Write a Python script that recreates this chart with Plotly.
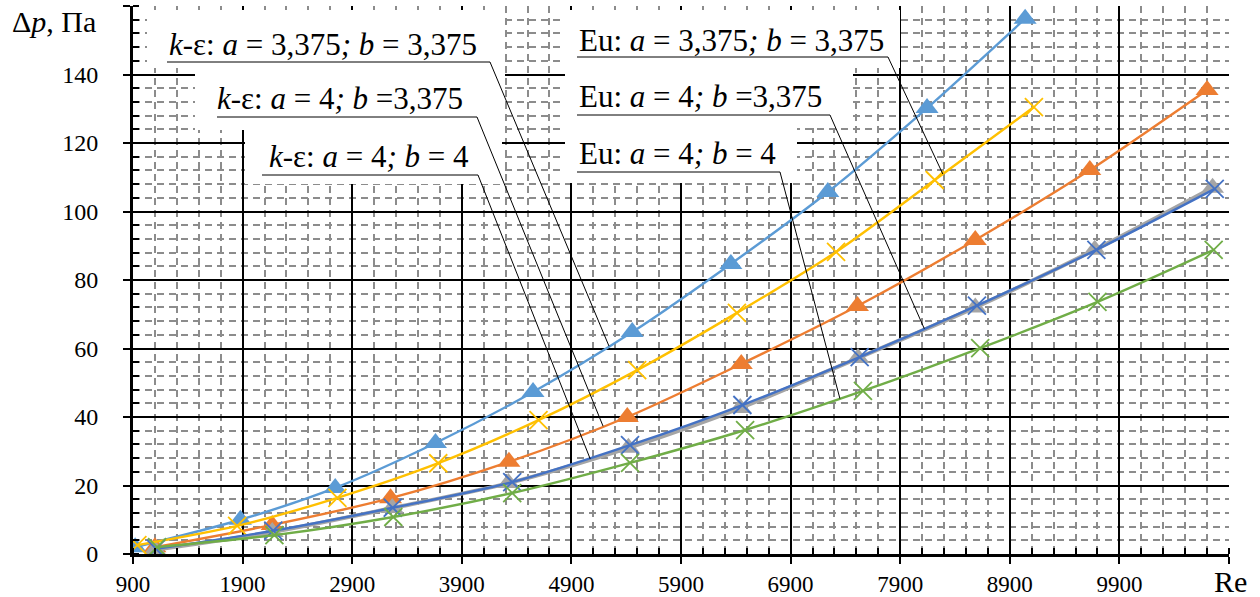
import numpy as np
import plotly.graph_objects as go

# Pressure drop vs Reynolds number: k-epsilon model (triangles) and Euler-number correlation (crosses)
re_k1 = [920, 1880, 2745, 3660, 4550, 5455, 6355, 7240, 8145, 9040]
dp_k1 = [2.0, 10.0, 19.3, 32.4, 47.3, 64.8, 84.7, 105.7, 130.2, 156.3]

re_k2 = [1100, 2170, 3250, 4330, 5410, 6450, 7510, 8585, 9630, 10700]
dp_k2 = [2.0, 8.5, 16.3, 26.9, 40.0, 55.5, 72.4, 91.7, 112.1, 135.5]

re_k3 = [1100, 2170, 3265, 4325, 5420, 6440, 7515, 8585, 9675, 10750]
dp_k3 = [1.2, 6.4, 13.4, 20.7, 31.0, 42.6, 57.2, 72.0, 88.8, 106.9]

re_eu1 = [940, 1850, 2765, 3685, 4600, 5500, 6410, 7315, 8215, 9120]
dp_eu1 = [2.6, 8.2, 16.4, 26.5, 39.1, 53.7, 70.4, 88.2, 109.2, 130.5]

re_eu2 = [1110, 2180, 3270, 4360, 5435, 6460, 7530, 8600, 9690, 10770]
dp_eu2 = [1.5, 6.8, 13.5, 21.0, 31.8, 43.5, 57.5, 72.5, 88.8, 106.6]

re_eu3 = [1120, 2190, 3275, 4360, 5435, 6485, 7560, 8630, 9700, 10760]
dp_eu3 = [2.0, 5.5, 10.8, 17.8, 26.6, 36.2, 47.6, 60.1, 73.6, 88.8]

x_ticks = list(range(900, 10901, 1000))
y_ticks = list(range(0, 161, 20))

W, H = 1260, 597
L, R, T, B = 133, 31, 6, 43
X_RANGE = (900, 10900)
Y_RANGE = (0, 160)


def xd(px):
    return X_RANGE[0] + (px - L) / (W - L - R) * (X_RANGE[1] - X_RANGE[0])


def yd(py):
    return Y_RANGE[1] - (py - T) / (H - T - B) * (Y_RANGE[1] - Y_RANGE[0])


def xp(px):
    return (px - L) / (W - L - R)


def yp(py):
    return 1 - (py - T) / (H - T - B)


SERIF = "Liberation Serif, Times New Roman, DejaVu Serif, serif"

fig = go.Figure()

tri_series = [
    (re_k1, dp_k1, "#5B9BD5", 2.4),
    (re_k2, dp_k2, "#ED7D31", 2.4),
    (re_k3, dp_k3, "#A5A5A5", 4.0),
]
for xs, ys, col, lw in tri_series:
    fig.add_trace(go.Scatter(
        x=xs, y=ys, mode="lines+markers",
        line=dict(color=col, width=lw, shape="spline", smoothing=0.8),
        marker=dict(symbol="triangle-up", size=20, color=col),
        showlegend=False,
    ))

x_series = [
    (re_eu1, dp_eu1, "#FFC000"),
    (re_eu2, dp_eu2, "#4472C4"),
    (re_eu3, dp_eu3, "#70AD47"),
]
for xs, ys, col in x_series:
    fig.add_trace(go.Scatter(
        x=xs, y=ys, mode="lines+markers",
        line=dict(color=col, width=2.4, shape="spline", smoothing=0.8),
        marker=dict(symbol="x-thin", size=18, color=col,
                    line=dict(color=col, width=1.8)),
        showlegend=False,
    ))

shapes = []
annotations = []

# white label backgrounds (pixel boxes)
boxes = [
    (147, 505, 10, 68), (195, 505, 68, 130), (245, 502, 130, 184),
    (565, 900, 10, 68), (565, 853, 68, 128), (565, 797, 128, 183),
]
for x0, x1, y0, y1 in boxes:
    shapes.append(dict(type="rect", xref="x", yref="y",
                       x0=xd(x0), x1=xd(x1), y0=yd(y0), y1=yd(y1),
                       fillcolor="white", line=dict(width=0), layer="above"))

# labels: text, left px, baseline px, underline start/end px, underline y px, target series, target Re
labels = [
    ("<i>k</i>-ε: <i>a</i> = 3,375<i>;</i> <i>b</i> = 3,375", 167, 54, 167, 490, 62, re_k1, dp_k1, 5243),
    ("<i>k</i>-ε: <i>a</i> = 4<i>;</i> <i>b</i> =3,375", 215, 108, 217, 477, 117, re_k2, dp_k2, 5189),
    ("<i>k</i>-ε: <i>a</i> = 4<i>;</i> <i>b</i> = 4", 267, 166, 262, 478, 175, re_k3, dp_k3, 5072),
    ("Eu: <i>a</i> = 3,375<i>;</i> <i>b</i> = 3,375", 577, 50, 577, 888, 57, re_eu1, dp_eu1, 8289),
    ("Eu: <i>a</i> = 4<i>;</i> <i>b</i> =3,375", 577, 106, 577, 830, 115, re_eu2, dp_eu2, 8120),
    ("Eu: <i>a</i> = 4<i>;</i> <i>b</i> = 4", 577, 163, 577, 780, 172, re_eu3, dp_eu3, 7350),
]
for text, tx, base, ux0, ux1, uy, sx, sy, tre in labels:
    annotations.append(dict(text=text, x=xd(tx), y=yd(base - 10), xref="x", yref="y",
                            xanchor="left", yanchor="middle", showarrow=False,
                            font=dict(family=SERIF, size=31, color="black")))
    shapes.append(dict(type="line", xref="x", yref="y",
                       x0=xd(ux0), x1=xd(ux1), y0=yd(uy), y1=yd(uy),
                       line=dict(color="black", width=1)))
    shapes.append(dict(type="line", xref="x", yref="y",
                       x0=xd(ux1), y0=yd(uy), x1=tre, y1=float(np.interp(tre, sx, sy)),
                       line=dict(color="black", width=1)))

# axis titles
annotations.append(dict(text="Δ<i>p</i>, Па", x=xp(10), y=yp(22), xref="paper", yref="paper",
                        xanchor="left", yanchor="middle", showarrow=False,
                        font=dict(family=SERIF, size=30, color="black")))
annotations.append(dict(text="Re", x=xp(1212), y=yp(581), xref="paper", yref="paper",
                        xanchor="left", yanchor="middle", showarrow=False,
                        font=dict(family=SERIF, size=30, color="black")))

minor_common = dict(ticks="inside", ticklen=6, tickwidth=2, tickcolor="black",
                    showgrid=True, gridcolor="#8c8c8c", griddash="7px,5px", gridwidth=1.5)

fig.update_layout(
    width=W, height=H,
    margin=dict(l=L, r=R, t=T, b=B),
    paper_bgcolor="white", plot_bgcolor="white",
    shapes=shapes, annotations=annotations,
    xaxis=dict(
        range=list(X_RANGE), tickmode="array", tickvals=x_ticks,
        ticktext=[str(v) for v in x_ticks[:-1]] + [""],
        showgrid=True, gridcolor="black", gridwidth=2,
        showline=True, linecolor="black", linewidth=3, zeroline=False,
        ticks="outside", ticklen=7, tickwidth=2, tickcolor="black",
        ticklabelstandoff=0, automargin=False,
        tickfont=dict(family=SERIF, size=23, color="black"),
        minor=dict(tickmode="linear", tick0=900, dtick=200, **minor_common),
    ),
    yaxis=dict(
        range=list(Y_RANGE), tickmode="array", tickvals=y_ticks,
        ticktext=[str(v) for v in y_ticks[:-1]] + [""],
        showgrid=True, gridcolor="black", gridwidth=2,
        showline=True, linecolor="black", linewidth=3, zeroline=False,
        ticks="outside", ticklen=7, tickwidth=2, tickcolor="black",
        ticklabelstandoff=20, automargin=False,
        tickfont=dict(family=SERIF, size=24, color="black"),
        minor=dict(tickmode="linear", tick0=0, dtick=4, **minor_common),
    ),
)

fig.write_html("out.html")
